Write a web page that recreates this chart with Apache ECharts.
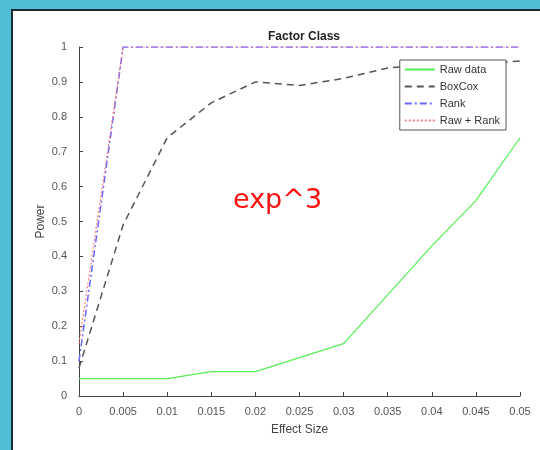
<!DOCTYPE html>
<html><head><meta charset="utf-8">
<script src="https://cdn.jsdelivr.net/npm/echarts@6/dist/echarts.min.js"></script>
<style>html,body{margin:0;padding:0;background:#4fbdd4;}#c{width:540px;height:450px;}</style>
</head><body><div id="c"></div>
<script>
const effectSize = ['0','0.005','0.01','0.015','0.02','0.025','0.03','0.035','0.04','0.045','0.05'];
const rawData  = [0.05,0.05,0.05,0.07,0.07,0.11,0.15,0.29,0.43,0.56,0.74];
const boxCox   = [0.08,0.49,0.74,0.84,0.90,0.89,0.91,0.94,0.95,0.95,0.96];
const rank     = [0.10,1,1,1,1,1,1,1,1,1,1];
const rawRank  = [0.15,1,1,1,1,1,1,1,1,1,1];
const seriesNames = ['Raw data','BoxCox','Rank','Raw + Rank'];
const yTicks = [0,0.1,0.2,0.3,0.4,0.5,0.6,0.7,0.8,0.9,1];

const chart = echarts.init(document.getElementById('c'));
const axisCol = '#444';
const lblCol = '#555';
const ff = 'Liberation Sans, Arial, sans-serif';
function mk(name, data, color, type, width, z) {
  return {name, type:'line', data: effectSize.map((x,i)=>[+x, data[i]]), symbol:'none', z,
    lineStyle:{color, type, width}, itemStyle:{color}};
}
chart.setOption({
  backgroundColor:'transparent',
  animation:false,
  graphic:[
    {type:'rect', left:11, top:9, shape:{width:540, height:450}, style:{fill:'#fff', stroke:'#1c2b33', lineWidth:2}, z:-10},
    {type:'text', left:233, top:187, style:{text:'exp^3', fill:'#ff1010', font:'27px "Comic Sans MS", "DejaVu Sans", sans-serif'}, z:10}
  ],
  title:{text:'Factor Class', left:299, top:26, textAlign:'center',
    textStyle:{fontSize:12, fontWeight:'bold', color:'#222', fontFamily:ff}},
  grid:{left:79, right:20, top:47, bottom:54},
  legend:{orient:'vertical', right:34, top:60, itemWidth:30, itemHeight:10, itemGap:6,
    borderColor:'#555', borderWidth:1, backgroundColor:'#fff', padding:[4,6,4,4],
    itemStyle:{opacity:0},
    textStyle:{fontSize:11, color:'#333', fontFamily:ff},
    data:seriesNames},
  xAxis:{type:'value', min:0, max:0.05, interval:0.005,
    name:'Effect Size', nameLocation:'middle', nameGap:28,
    nameTextStyle:{fontSize:12, color:'#444', fontFamily:ff},
    axisLine:{lineStyle:{color:axisCol}}, axisTick:{inside:true, length:4, lineStyle:{color:axisCol}},
    axisLabel:{color:lblCol, fontSize:11, margin:10, fontFamily:ff,
      formatter:(v)=>{const s=effectSize.find(t=>Math.abs(+t-v)<1e-9); return s!==undefined?s:'';}},
    splitLine:{show:false}},
  yAxis:{type:'value', min:0, max:1, interval:0.1,
    name:'Power', nameLocation:'middle', nameGap:32, nameMoveOverlap:false,
    nameTextStyle:{fontSize:12, color:'#444', fontFamily:ff},
    axisLine:{show:true, lineStyle:{color:axisCol}}, axisTick:{show:true, inside:true, length:4, lineStyle:{color:axisCol}},
    axisLabel:{color:lblCol, fontSize:11, margin:12, fontFamily:ff,
      formatter:(v)=>{const t=yTicks.find(k=>Math.abs(k-v)<1e-9); return t===undefined?'':String(t);}},
    splitLine:{show:false}},
  series:[
    mk('Raw data', rawData, '#55ee55', 'solid', 1.2, 2),
    mk('BoxCox', boxCox, '#555555', [7,5], 1.5, 3),
    mk('Rank', rank, '#6666ff', [7,3,2,3], 1.5, 4),
    mk('Raw + Rank', rawRank, '#ff8080', [2,2], 1.2, 5)
  ]
});
</script></body></html>
